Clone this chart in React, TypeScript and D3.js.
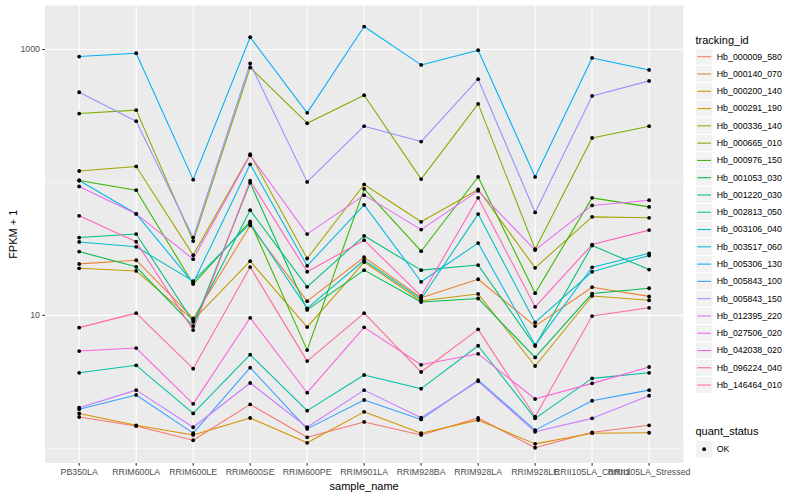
import React from "react";
import * as d3 from "d3";

const categories = [
  "PB350LA", "RRIM600LA", "RRIM600LE", "RRIM600SE", "RRIM600PE", "RRIM901LA",
  "RRIM928BA", "RRIM928LA", "RRIM928LE", "RRII105LA_Control", "RRII105LA_Stressed",
];

const trackingIds = [
  "Hb_000009_580", "Hb_000140_070", "Hb_000200_140", "Hb_000291_190", "Hb_000336_140",
  "Hb_000665_010", "Hb_000976_150", "Hb_001053_030", "Hb_001220_030", "Hb_002813_050",
  "Hb_003106_040", "Hb_003517_060", "Hb_005306_130", "Hb_005843_100", "Hb_005843_150",
  "Hb_012395_220", "Hb_027506_020", "Hb_042038_020", "Hb_096224_040", "Hb_146464_010",
];

const seriesColors = [
  "#F8766D", "#EA8331", "#D89000", "#C09B00", "#A3A500", "#7CAE00", "#39B600", "#00BB4E",
  "#00BF7D", "#00C1A3", "#00BFC4", "#00BAE0", "#00B0F6", "#35A2FF", "#9590FF", "#C77CFF",
  "#E76BF3", "#FA62DB", "#FF62BC", "#FF6C91",
];

// FPKM + 1 values, one array per tracking_id, in category order
const hb000009_580 = [1.72, 1.47, 1.15, 2.14, 1.21, 1.58, 1.26, 1.69, 1.01, 1.32, 1.49];
const hb000140_070 = [24.4, 26.0, 9.49, 47.5, 12.8, 27.4, 13.6, 18.7, 8.31, 16.3, 13.9];
const hb000200_140 = [1.83, 1.49, 1.26, 1.69, 1.10, 1.88, 1.30, 1.63, 1.08, 1.30, 1.31];
const hb000291_190 = [22.6, 21.6, 9.22, 25.6, 8.17, 25.2, 12.9, 14.5, 4.16, 14.0, 13.0];
const hb000336_140 = [122, 132, 28.4, 163, 26.8, 96.6, 50.6, 88.6, 22.8, 55.1, 54.2];
const hb000665_010 = [330, 350, 36.2, 732, 279, 453, 106, 390, 31.5, 216, 265];
const hb000976_150 = [103.5, 87.5, 17.2, 50.9, 5.48, 89.5, 30.4, 110, 14.7, 76.6, 65.5];
const hb001053_030 = [30.2, 23.2, 8.31, 99.3, 11.0, 21.9, 12.6, 13.4, 4.83, 14.6, 16.0];
const hb001220_030 = [38.5, 40.9, 8.95, 61.9, 16.4, 39.7, 21.9, 23.9, 5.88, 33.5, 22.1];
const hb002813_050 = [3.70, 4.21, 1.83, 5.06, 1.92, 3.56, 2.81, 5.91, 1.68, 3.36, 3.70];
const hb003106_040 = [35.7, 32.8, 18.1, 49.2, 11.3, 26.0, 13.3, 57.8, 8.86, 21.3, 28.2];
const hb003517_060 = [103.5, 58.1, 17.5, 137, 23.6, 67.9, 17.9, 35.0, 5.98, 23.0, 29.3];
const hb005306_130 = [886, 938, 105, 1237, 334, 1489, 766, 988, 110, 865, 702];
const hb005843_100 = [1.97, 2.52, 1.30, 4.04, 1.40, 2.31, 1.65, 3.26, 1.37, 2.28, 2.74];
const hb005843_150 = [477, 289, 38.5, 785, 101, 265, 203, 598, 59.5, 448, 581];
const hb012395_220 = [2.02, 2.74, 1.44, 3.10, 1.44, 2.74, 1.70, 3.19, 1.33, 1.68, 2.49];
const hb027506_020 = [93.3, 58.1, 26.5, 160, 40.9, 80.3, 44.2, 86.5, 31.0, 67.2, 73.6];
const hb042038_020 = [5.39, 5.68, 2.16, 9.59, 2.62, 8.13, 4.25, 5.14, 2.35, 3.08, 4.09];
const hb096224_040 = [56.1, 35.8, 7.75, 103, 21.3, 36.8, 14.0, 76.6, 11.6, 34.1, 43.8];
const hb146464_010 = [8.09, 10.4, 3.97, 23.1, 4.53, 10.4, 3.75, 7.85, 1.73, 9.88, 11.4];

const seriesValues = [
  hb000009_580, hb000140_070, hb000200_140, hb000291_190, hb000336_140, hb000665_010,
  hb000976_150, hb001053_030, hb001220_030, hb002813_050, hb003106_040, hb003517_060,
  hb005306_130, hb005843_100, hb005843_150, hb012395_220, hb027506_020, hb042038_020,
  hb096224_040, hb146464_010,
];

const yMajorTicks = [10, 1000];
const yMinorTicks = [1, 100];
const yTickLabels = ["10", "1000"];
const quantStatusLevels = ["OK"];

const W = 800;
const H = 500;
const FONT = "'Liberation Sans', Arial, Helvetica, sans-serif";

export default function App() {
  const panel = { left: 45, right: 683.3, top: 5.5, bottom: 463 };

  const x = d3
    .scalePoint<string>()
    .domain(categories)
    .range([panel.left, panel.right])
    .padding(0.6);

  const all = seriesValues.flat();
  const lo = Math.log10(d3.min(all) as number);
  const hi = Math.log10(d3.max(all) as number);
  const pad = (hi - lo) * 0.05;
  const y = d3
    .scaleLog()
    .domain([Math.pow(10, lo - pad), Math.pow(10, hi + pad)])
    .range([468.8, panel.top]);

  const line = d3
    .line<number>()
    .x((_, i) => x(categories[i]) as number)
    .y((d) => y(d));

  const keyH = 17.28;
  const legendX = 695.5;
  const legendKeyTop = 48.1;

  return (
    <div style={{ position: "absolute", left: 0, top: 0 }}>
      <svg width={W} height={H} style={{ display: "block", background: "#fff" }} fontFamily={FONT}>
        <rect x={panel.left} y={panel.top} width={panel.right - panel.left} height={panel.bottom - panel.top} fill="#EBEBEB" />
        {yMinorTicks.map((t) => (
          <line key={"mn" + t} x1={panel.left} x2={panel.right} y1={y(t)} y2={y(t)} stroke="#fff" strokeWidth={0.55} />
        ))}
        {yMajorTicks.map((t) => (
          <line key={"mj" + t} x1={panel.left} x2={panel.right} y1={y(t)} y2={y(t)} stroke="#fff" strokeWidth={1.07} />
        ))}
        {categories.map((c) => (
          <line key={"vg" + c} x1={x(c)} x2={x(c)} y1={panel.top} y2={panel.bottom} stroke="#fff" strokeWidth={1.07} />
        ))}

        {seriesValues.map((vals, i) => (
          <path key={"l" + i} d={line(vals) as string} fill="none" stroke={seriesColors[i]} strokeWidth={1.07} strokeLinejoin="round" />
        ))}
        {seriesValues.map((vals, i) =>
          vals.map((v, j) => (
            <circle key={"p" + i + "-" + j} cx={x(categories[j])} cy={y(v)} r={1.9} fill="#000" />
          ))
        )}

        {/* y axis */}
        {yMajorTicks.map((t, i) => (
          <g key={"yt" + t}>
            <line x1={panel.left - 2.75} x2={panel.left} y1={y(t)} y2={y(t)} stroke="#333" strokeWidth={1.07} />
            <text x={panel.left - 5} y={y(t)} dy="0.33em" textAnchor="end" fontSize={8.8} fill="#4D4D4D">
              {yTickLabels[i]}
            </text>
          </g>
        ))}
        <text transform={`translate(16.5,${(panel.top + panel.bottom) / 2}) rotate(-90)`} textAnchor="middle" fontSize={11} fill="#000">
          FPKM + 1
        </text>

        {/* x axis */}
        {categories.map((c) => (
          <g key={"xt" + c}>
            <line x1={x(c)} x2={x(c)} y1={panel.bottom} y2={panel.bottom + 2.75} stroke="#333" strokeWidth={1.07} />
            <text x={x(c)} y={panel.bottom + 11.5} textAnchor="middle" fontSize={8.8} fill="#4D4D4D">
              {c}
            </text>
          </g>
        ))}
        <text x={(panel.left + panel.right) / 2} y={489.5} textAnchor="middle" fontSize={11} fill="#000">
          sample_name
        </text>

        {/* tracking_id legend */}
        <text x={legendX} y={43.5} fontSize={11} fill="#000">tracking_id</text>
        {trackingIds.map((id, i) => {
          const top = legendKeyTop + i * keyH;
          return (
            <g key={"lg" + id}>
              <rect x={legendX} y={top} width={keyH} height={keyH} fill="#F2F2F2" stroke="#fff" strokeWidth={1} />
              <line x1={legendX + 1.7} x2={legendX + keyH - 1.7} y1={top + keyH / 2} y2={top + keyH / 2} stroke={seriesColors[i]} strokeWidth={1.07} />
              <text x={legendX + keyH + 4} y={top + keyH / 2} dy="0.33em" fontSize={8.8} fill="#000">
                {id}
              </text>
            </g>
          );
        })}

        {/* quant_status legend */}
        <text x={legendX} y={434.5} fontSize={11} fill="#000">quant_status</text>
        {quantStatusLevels.map((q, i) => {
          const top = 440.5 + i * keyH;
          return (
            <g key={"qs" + q}>
              <rect x={legendX} y={top} width={keyH} height={keyH} fill="#F2F2F2" stroke="#fff" strokeWidth={1} />
              <circle cx={legendX + keyH / 2} cy={top + keyH / 2} r={1.9} fill="#000" />
              <text x={legendX + keyH + 4} y={top + keyH / 2} dy="0.33em" fontSize={8.8} fill="#000">
                {q}
              </text>
            </g>
          );
        })}
      </svg>
    </div>
  );
}
